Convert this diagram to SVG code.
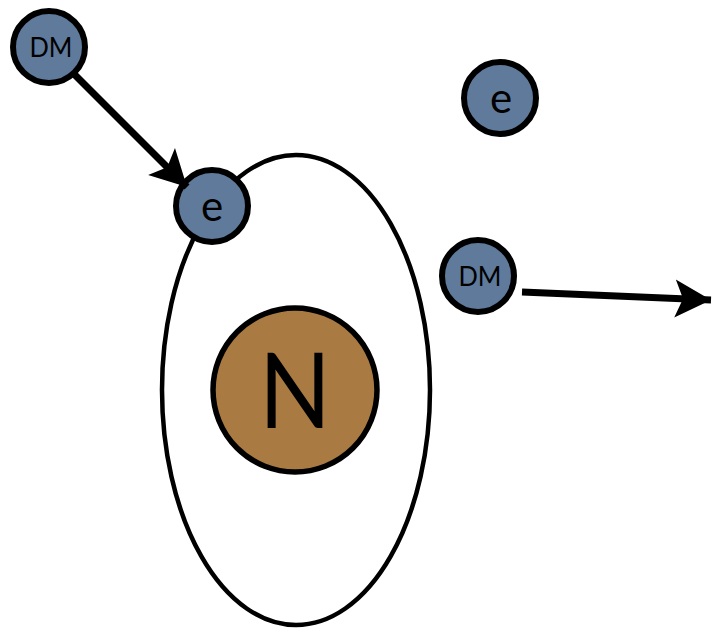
<svg xmlns="http://www.w3.org/2000/svg" width="712" height="628" viewBox="0 0 712 628">
<defs>
<style>
.p{fill:#5f7a9a;stroke:#000;stroke-width:6}
.n{fill:#a97a42;stroke:#000;stroke-width:5.5}
.orb{fill:#fff;stroke:#000;stroke-width:4.5}
.t{font-family:Lato,"Noto Sans",sans-serif;fill:#000;text-anchor:middle}
.c{stroke:#000;stroke-width:7;fill:none}
</style>
<marker id="ah" markerUnits="userSpaceOnUse" viewBox="-38 -21 40 42" refX="0" refY="0" markerWidth="40" markerHeight="42" orient="auto">
<path d="M0,0 L-36,-19 L-28,0 L-36,19 Z" fill="#000"/>
</marker>
</defs>
<rect width="712" height="628" fill="#fff"/>
<g id="atom">
<ellipse class="orb" cx="296" cy="390" rx="134" ry="235"/>
</g>
<g id="nucleus">
<circle class="n" cx="295" cy="390" r="82"/>
<text class="t" x="295" y="428" font-size="104" textLength="72" lengthAdjust="spacingAndGlyphs">N</text>
</g>
<g id="dm1">
<circle class="p" cx="49" cy="47" r="36"/>
<text class="t" x="51" y="57" font-size="27" textLength="43" lengthAdjust="spacingAndGlyphs">DM</text>
</g>
<g id="e1">
<circle class="p" cx="212" cy="206" r="36"/>
<text class="t" x="212" y="221" font-size="42">e</text>
</g>
<g id="e2">
<circle class="p" cx="500" cy="98" r="36"/>
<text class="t" x="501" y="113" font-size="42">e</text>
</g>
<g id="dm2">
<circle class="p" cx="478" cy="276" r="36"/>
<text class="t" x="480" y="286" font-size="27" textLength="43" lengthAdjust="spacingAndGlyphs">DM</text>
</g>
<g id="connectors">
<line class="c" x1="74" y1="74" x2="187" y2="187" marker-end="url(#ah)"/>
<line class="c" x1="522" y1="292" x2="711" y2="300" marker-end="url(#ah)"/>
</g>
</svg>
